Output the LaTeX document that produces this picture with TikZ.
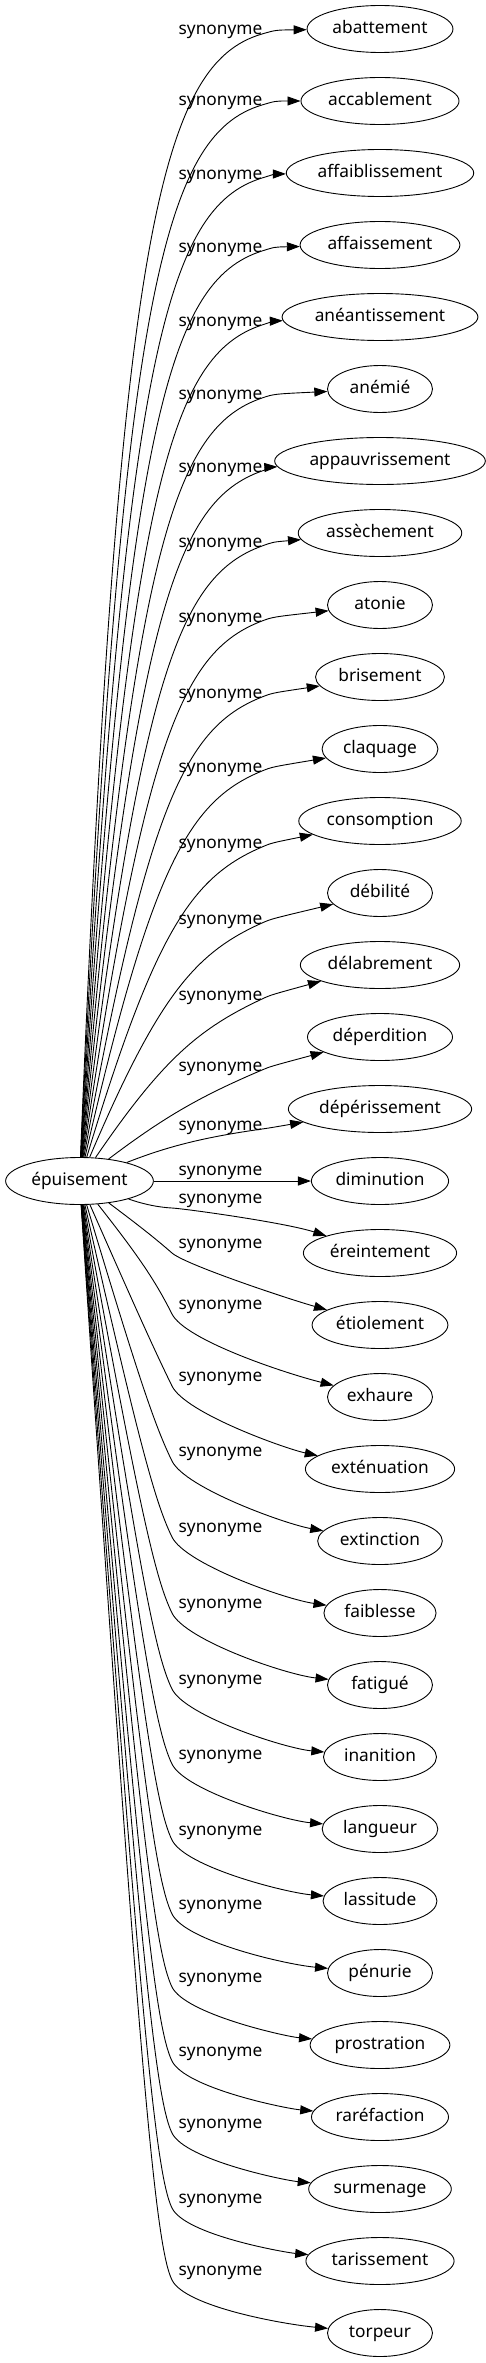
\documentclass[tikz,border=0pt]{standalone}
\usepackage{fontspec}
\setmainfont{Noto Sans}
\usetikzlibrary{arrows.meta, calc, shapes.geometric}

\begin{document}
\begin{tikzpicture}[x=1pt, y=-1pt, >={Triangle[length=13pt, width=9pt]},
    word/.style={draw, ellipse, line width=0.9pt, minimum width=105pt, minimum height=47pt,
        inner xsep=4pt, inner ysep=2pt, text height=13pt, text depth=4pt,
        font=\fontsize{17.3}{20}\selectfont},
    link/.style={->, line width=0.9pt},
    rel_text/.style={font=\fontsize{17.3}{20}\selectfont, anchor=base, inner sep=0pt}
]
\useasboundingbox (0,0) rectangle (486,2363);

% Root word
\node[word] (epuis) at (79.5,1181) {épuisement};

% Synonyms above the root: edges bend up and pass below the end of their label
\foreach \w/\ly [count=\i from 0] in {abattement/30, accablement/101, affaiblissement/174,
    affaissement/247, anéantissement/321, anémié/394, appauvrissement/467, assèchement/542,
    atonie/617, brisement/693, claquage/767, consomption/843, débilité/919, délabrement/995,
    déperdition/1066, dépérissement/1125} {
  \pgfmathsetmacro\yt{29+72*\i}
  \pgfmathsetmacro\yw{\ly+4}
  \pgfmathsetmacro\hh{1157-\yw}
  \pgfmathsetmacro\bx{185-60*(\hh/1123)}
  \pgfmathsetmacro\by{\yw+min(40,0.4*\hh)}
  \node[word] (syn\i) at (380,\yt) {\w};
  \coordinate (b\i) at (\bx,\by);
  \coordinate (w\i) at (262,\yw);
  \node[rel_text] (lab\i) at (220.5,\ly+5) {synonyme};
  \draw[link] (epuis) .. controls ($(epuis)!0.85!(b\i)$) and ($(w\i)!0.75!(b\i)$) .. (w\i)
      .. controls ($(w\i)!-0.1!(b\i)$) .. (syn\i);
}

% Straight edge in the middle
\node[word] (syn16) at (380,1181) {diminution};
\node[rel_text] (lab16) at (220.5,1175) {synonyme};
\draw[link] (epuis) -- (syn16);

% Synonyms below the root: edges drop down, bend at the start of their label
\foreach \w/\ly [count=\j from 17] in {éreintement/1198, étiolement/1243, exhaure/1304,
    exténuation/1376, extinction/1451, faiblesse/1527, fatigué/1603, inanition/1679,
    langueur/1754, lassitude/1830, pénurie/1904, prostration/1977, raréfaction/2051,
    surmenage/2123, tarissement/2198, torpeur/2270} {
  \pgfmathsetmacro\yt{29+72*\j}
  \pgfmathsetmacro\yw{\ly+10}
  \pgfmathsetmacro\hh{\yw-1205}
  \pgfmathsetmacro\by{\yw-min(45,0.4*\hh)}
  \pgfmathsetmacro\yc{\yt-95*max(0.09,0.32-0.035*(\j-17))}
  \node[word] (syn\j) at (380,\yt) {\w};
  \coordinate (b\j) at (150,\by);
  \coordinate (w\j) at (172,\yw);
  \coordinate (c\j) at (285,\yc);
  \node[rel_text] (lab\j) at (220.5,\ly+5) {synonyme};
  \draw[link] (epuis) .. controls ($(epuis)!0.85!(b\j)$) and ($(w\j)!0.75!(b\j)$) .. (w\j)
      .. controls ($(w\j)!-0.6!(b\j)$) and (c\j) .. (syn\j);
}

\end{tikzpicture}
\end{document}
